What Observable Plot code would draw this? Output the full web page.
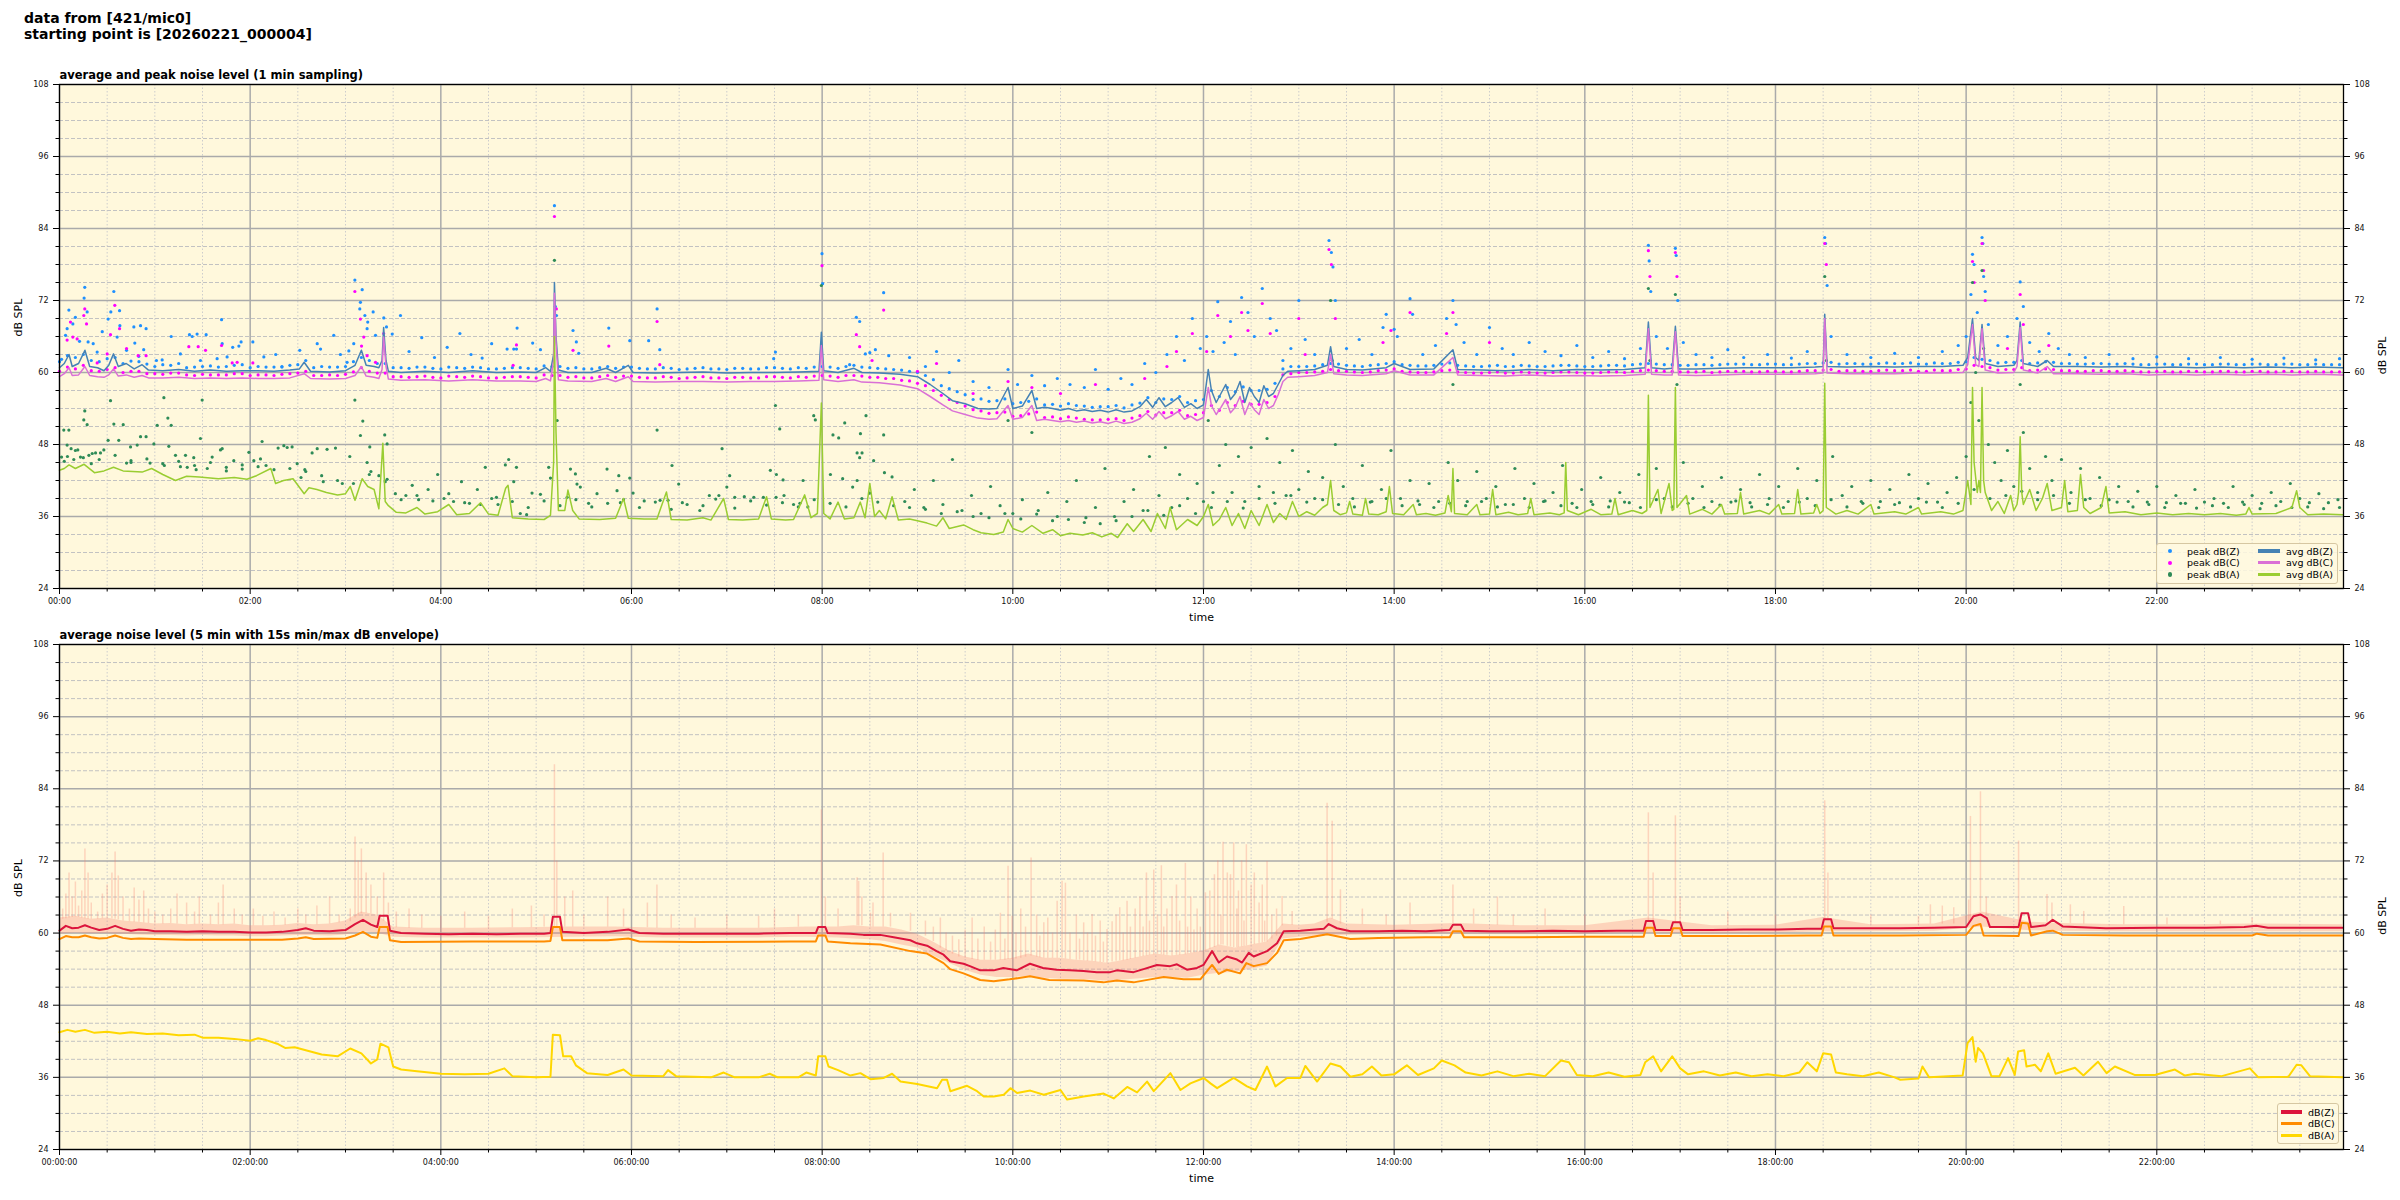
<!DOCTYPE html>
<html><head><meta charset="utf-8">
<script src="https://cdn.jsdelivr.net/npm/d3@7"></script>
<script src="https://cdn.jsdelivr.net/npm/@observablehq/plot@0.6"></script>
<style>
html,body{margin:0;padding:0;background:#fff;}
body{width:2400px;height:1200px;position:relative;overflow:hidden;font-family:"DejaVu Sans",sans-serif;}
#title{position:absolute;left:24px;top:10px;font-weight:bold;font-size:14px;line-height:16px;color:#000;}
.panel{position:absolute;left:0;}
.legend{position:absolute;box-sizing:border-box;border:1px solid #d6c7a2;border-radius:3px;background:rgba(255,249,225,0.85);font-size:9.5px;color:#000;}
.legend .item{position:absolute;white-space:nowrap;height:11px;line-height:11px;}
.legend .sw{position:absolute;}
</style></head>
<body>
<div id="title"></div>
<div id="top" class="panel" style="top:0px"></div>
<div id="bottom" class="panel" style="top:630px"></div>
<div id="legTop" class="legend" style="left:2156px;top:543px;width:182px;height:41px;"></div>
<div id="legBot" class="legend" style="left:2277px;top:1103px;width:62px;height:41px;"></div>
<script>
// ---------------- texts ----------------
const figTitle = ["data from [421/mic0]", "starting point is [20260221_000004]"];
const topTitle = "average and peak noise level (1 min sampling)";
const botTitle = "average noise level (5 min with 15s min/max dB envelope)";
const yLabel = "dB SPL";
const xLabel = "time";

// ---------------- ticks (minutes since 00:00) ----------------
const xMajor = [0,120,240,360,480,600,720,840,960,1080,1200,1320];
const xLabelsTop = ["00:00","02:00","04:00","06:00","08:00","10:00","12:00","14:00","16:00","18:00","20:00","22:00"];
const xLabelsBot = ["00:00:00","02:00:00","04:00:00","06:00:00","08:00:00","10:00:00","12:00:00","14:00:00","16:00:00","18:00:00","20:00:00","22:00:00"];
const xMinor = [30,60,90,150,180,210,270,300,330,390,420,450,510,540,570,630,660,690,750,780,810,870,900,930,990,1020,1050,1110,1140,1170,1230,1260,1290,1350,1380,1410];
const yMajor = [24,36,48,60,72,84,96,108];
const yMinor = [27,30,33,39,42,45,51,54,57,63,66,69,75,78,81,87,90,93,99,102,105];

// ---------------- top panel: 1-min averages [minute, dB] ----------------
const avgZ = [[0,60.8],[3,61.5],[6,63.0],[8,61.0],[12,61.5],[16,63.7],[19,61.0],[24,60.8],[28,60.3],[31,61.2],[34,63.1],[37,61.0],[42,61.5],[47,60.6],[52,61.3],[56,60.4],[65,60.3],[75,60.5],[85,60.2],[95,60.4],[105,60.2],[115,60.3],[125,60.3],[135,60.2],[145,60.4],[151,60.6],[154,61.7],[158,60.2],[170,60.1],[180,60.3],[186,61.2],[190,63.7],[193,61.2],[198,61.0],[201,60.8],[203,62.0],[204,67.5],[205.5,62.0],[207,60.2],[215,60.0],[230,60.2],[245,60.0],[260,60.3],[275,60.0],[290,60.1],[300,60.0],[306,60.8],[309,60.2],[311,63.0],[311.5,75.0],[312.5,66.0],[314,60.4],[320,60.0],[335,60.0],[344,60.7],[350,60.0],[358,61.2],[361,60.0],[375,59.9],[390,60.0],[405,60.1],[420,59.9],[435,60.0],[450,60.0],[465,60.1],[478,60.2],[479.5,66.7],[481,60.3],[490,60.0],[500,60.7],[505,60.0],[516,59.9],[529,59.7],[540,59.3],[548,58.0],[556,56.5],[562,55.3],[570,54.8],[578,54.0],[585,53.9],[590,54.0],[597,57.5],[600,54.0],[606,54.4],[612,57.0],[615,54.0],[620,54.2],[625,54.0],[630,53.7],[635,54.0],[640,53.6],[645,53.8],[650,53.5],[655,53.7],[660,53.4],[665,53.8],[670,53.4],[675,53.6],[680,54.3],[684,55.5],[688,54.2],[692,55.8],[696,54.3],[700,55.0],[704,55.8],[708,54.2],[712,54.8],[716,54.0],[720,54.6],[723,60.5],[725,57.0],[728,55.0],[731,56.5],[734,58.0],[737,55.5],[740,56.5],[743,58.5],[746,55.0],[749,57.5],[752,56.0],[755,55.0],[758,57.8],[761,56.0],[764,56.5],[767,58.0],[770,59.5],[773,60.2],[780,60.3],[790,60.5],[798,61.2],[800,64.3],[802,61.0],[810,60.5],[820,60.4],[835,60.8],[840,61.5],[850,60.5],[865,60.6],[877,63.8],[880,60.5],[895,60.4],[910,60.3],[925,60.5],[940,60.3],[955,60.5],[970,60.4],[985,60.5],[998,60.8],[1000,68.4],[1002,60.8],[1010,60.6],[1015,60.7],[1017,67.7],[1019,60.6],[1030,60.6],[1045,60.7],[1060,60.8],[1075,60.8],[1090,60.8],[1105,60.9],[1110,61.0],[1111,69.7],[1112.5,61.0],[1125,60.9],[1140,61.0],[1155,60.9],[1170,61.0],[1185,61.0],[1198,61.2],[1201,62.5],[1204,69.0],[1206,62.5],[1208,62.0],[1210,68.0],[1212,61.5],[1220,61.0],[1230,61.2],[1232,62.0],[1234,68.4],[1236,61.5],[1245,61.0],[1251,62.0],[1255,61.0],[1270,61.0],[1285,60.9],[1300,61.0],[1315,60.8],[1330,60.9],[1345,60.8],[1360,60.9],[1375,60.8],[1390,60.9],[1405,60.8],[1420,60.9],[1437,60.8]];

const avgC = [[0,59.3],[3,59.8],[6,60.8],[8,59.5],[12,59.6],[16,61.0],[19,59.5],[24,59.3],[28,59.2],[31,59.6],[34,60.6],[37,59.4],[42,59.6],[47,59.2],[52,59.5],[56,59.1],[65,59.1],[75,59.2],[85,59.0],[95,59.1],[105,59.0],[115,59.1],[125,59.0],[135,59.0],[145,59.1],[154,59.8],[158,59.0],[170,58.9],[180,59.0],[186,59.5],[190,61.0],[193,59.4],[198,59.2],[201,59.0],[203,60.5],[204,65.9],[205.5,61.0],[207,58.9],[215,58.7],[230,58.8],[245,58.6],[260,58.8],[275,58.6],[290,58.6],[300,58.5],[306,59.0],[309,58.6],[311,62.0],[311.5,73.2],[312.5,65.0],[314,58.8],[320,58.6],[335,58.5],[344,59.0],[350,58.5],[358,59.3],[361,58.5],[375,58.4],[390,58.5],[405,58.5],[420,58.4],[435,58.5],[450,58.5],[465,58.6],[478,58.7],[479.5,64.5],[481,58.8],[490,58.5],[500,58.8],[505,58.4],[516,58.3],[529,57.9],[540,57.3],[548,56.0],[556,54.6],[562,53.6],[570,53.0],[578,52.4],[585,52.2],[590,52.3],[597,54.5],[600,52.2],[606,52.5],[612,54.5],[615,52.0],[620,52.2],[625,52.0],[630,51.8],[635,52.0],[640,51.7],[645,51.9],[650,51.6],[655,51.8],[660,51.5],[665,51.9],[670,51.5],[675,51.7],[680,52.3],[684,53.2],[688,52.2],[692,53.5],[696,52.3],[700,52.8],[704,53.5],[708,52.2],[712,52.7],[716,52.0],[720,52.5],[723,57.5],[725,54.5],[728,53.0],[731,54.2],[734,55.5],[737,53.3],[740,54.2],[743,56.0],[746,53.0],[749,55.0],[752,53.8],[755,53.0],[758,55.5],[761,54.0],[764,54.5],[767,56.3],[770,58.5],[773,59.2],[780,59.3],[790,59.5],[798,60.0],[800,63.0],[802,59.8],[810,59.6],[820,59.5],[835,59.8],[840,60.3],[850,59.6],[865,59.6],[877,62.5],[880,59.6],[895,59.5],[910,59.4],[925,59.6],[940,59.4],[955,59.5],[970,59.4],[985,59.5],[998,59.7],[1000,67.3],[1002,59.7],[1010,59.6],[1015,59.6],[1017,66.8],[1019,59.6],[1030,59.5],[1045,59.6],[1060,59.7],[1075,59.7],[1090,59.7],[1105,59.8],[1110,59.9],[1111,69.0],[1112.5,59.9],[1125,59.8],[1140,59.8],[1155,59.8],[1170,59.9],[1185,59.9],[1198,60.0],[1201,61.3],[1204,68.0],[1206,61.3],[1208,61.0],[1210,67.3],[1212,60.4],[1220,59.9],[1230,60.0],[1232,61.0],[1234,67.5],[1236,60.4],[1245,59.9],[1251,61.0],[1255,59.8],[1270,59.8],[1285,59.7],[1300,59.8],[1315,59.6],[1330,59.7],[1345,59.6],[1360,59.7],[1375,59.6],[1390,59.7],[1405,59.6],[1420,59.7],[1437,59.6]];

const avgA = [[0,43.7],[3,44.0],[6,44.6],[10,44.0],[15.5,44.7],[22,43.3],[28,43.6],[34,44.2],[40,43.6],[46,43.5],[52,43.4],[58,44.0],[65,43.0],[73,42.0],[80,42.7],[88,42.6],[100,42.3],[110,42.5],[118,42.2],[124,42.8],[133,44.0],[136,41.5],[141,42.0],[147,42.3],[154,39.8],[157,40.8],[162,40.5],[168,40.0],[175,39.6],[180,39.8],[183,41.0],[186,38.7],[190.5,42.3],[194,41.0],[198,40.5],[201,37.3],[203.5,48.2],[205,38.5],[207,37.8],[212,36.7],[218,36.6],[225,37.5],[230,36.4],[238,36.8],[245,38.0],[250,36.3],[258,36.5],[265,38.3],[270,36.4],[276,36.2],[280.8,40.7],[282.3,41.2],[285,35.8],[295,35.6],[305,35.5],[309,36.2],[311,45.0],[311.5,66.0],[312.5,50.0],[314,37.0],[318,37.0],[320,40.4],[323,37.0],[327,35.6],[340,35.5],[350,35.7],[355,39.0],[358,35.7],[368,35.6],[376,35.6],[382,40.1],[385,35.5],[395,35.4],[405,35.8],[410,35.4],[418,39.0],[421,35.5],[430,35.4],[440,35.6],[445,39.3],[448,35.6],[457,35.4],[462,35.5],[469,39.6],[473,35.8],[477,36.5],[479.5,54.9],[481,36.5],[485,35.6],[490,38.4],[494,35.6],[500,35.8],[504,38.4],[507,35.8],[510,41.5],[513,36.0],[516,37.0],[520,35.6],[524,39.3],[528,35.4],[535,35.6],[540,35.3],[546,34.9],[552,34.4],[556,35.8],[560,34.0],[569,34.6],[575,33.8],[580,33.3],[588,33.0],[594,33.4],[597,35.5],[600,34.0],[606,33.4],[612,34.5],[619,33.2],[625,33.8],[630,32.8],[636,33.2],[644,32.9],[650,33.3],[656,32.6],[662,33.2],[666,32.5],[672,34.8],[676,33.5],[682,35.5],[687,33.5],[691,36.5],[696,34.0],[699,37.5],[703,33.8],[710,35.5],[716,34.5],[720,36.0],[723,38.0],[726,34.5],[730,35.5],[734,37.5],[738,34.5],[742,36.5],[746,34.0],[750,37.0],[755,34.5],[760,38.0],[764,35.0],[768,36.5],[772,35.5],[776,38.5],[780,36.0],[785,36.8],[790,36.2],[795,37.5],[798,38.0],[800,42.0],[802,37.0],[806,36.3],[810,36.6],[812,38.5],[814,36.4],[820,36.2],[822,39.0],[824,36.4],[830,36.3],[835,36.8],[837,41.0],[839,36.5],[846,36.3],[852,38.0],[854,36.3],[860,36.5],[866,36.2],[872,36.6],[874,39.5],[876,36.8],[877,44.0],[878,36.5],[886,36.3],[892,38.0],[894,36.3],[900,36.4],[902,40.5],[904,36.3],[912,36.7],[918,36.3],[924,36.5],[926,39.0],[928,36.3],[938,36.6],[944,36.3],[947,36.6],[948,45.0],[949,37.0],[956,36.3],[964,37.2],[970,36.3],[977,36.4],[979,39.0],[981,36.3],[990,37.0],[996,36.5],[999,37.0],[1000,56.2],[1001,37.5],[1006,40.5],[1008,36.5],[1013,41.5],[1015,37.0],[1016,37.2],[1017,57.5],[1018,37.5],[1024,39.5],[1026,36.4],[1034,37.2],[1040,36.4],[1046,38.0],[1048,36.4],[1056,36.5],[1058,40.0],[1060,36.4],[1070,37.0],[1076,36.4],[1082,38.0],[1084,36.4],[1092,36.5],[1094,40.5],[1096,36.4],[1104,36.6],[1106,38.0],[1108,36.5],[1110,37.0],[1111,58.2],[1112,37.5],[1118,36.4],[1125,37.0],[1132,36.4],[1140,38.0],[1142,36.4],[1155,36.8],[1162,36.4],[1170,37.5],[1172,36.4],[1184,36.8],[1192,36.4],[1198,37.0],[1201,42.0],[1203,38.0],[1204,57.5],[1205,45.0],[1207,40.0],[1208,42.0],[1209,40.0],[1210,57.5],[1211,42.0],[1212,40.0],[1216,37.0],[1220,38.5],[1224,36.5],[1228,39.5],[1230,37.0],[1232,38.0],[1233,40.0],[1234,49.3],[1235,40.0],[1236,38.0],[1240,40.5],[1244,37.0],[1248,39.0],[1251,41.5],[1254,37.0],[1260,37.5],[1262,42.0],[1264,36.8],[1270,37.0],[1272,43.0],[1274,37.5],[1278,36.5],[1285,37.5],[1288,41.0],[1290,36.6],[1300,36.8],[1310,36.3],[1320,36.6],[1330,36.3],[1340,36.5],[1350,36.3],[1360,36.5],[1370,36.2],[1376,36.4],[1378,37.5],[1380,36.4],[1395,36.5],[1405,37.5],[1408,40.3],[1410,37.5],[1415,36.3],[1425,36.4],[1437,36.3]];

// ---------------- top panel: 1-min peaks [minute, dB] ----------------
const peakZ = [[0,61.8],[10,62.5],[20,62.0],[30,62.3],[40,61.5],[50,61.8],[60,61.0],[70,61.2],[80,60.8],[90,61.0],[100,60.9],[110,61.2],[120,60.8],[130,60.9],[140,61.0],[150,61.3],[160,60.8],[170,60.9],[180,61.0],[190,62.5],[200,61.5],[210,60.8],[220,60.7],[230,60.9],[240,60.6],[250,60.8],[260,60.9],[270,60.6],[280,60.7],[290,60.8],[300,60.6],[310,61.0],[320,60.7],[330,60.6],[340,60.8],[350,60.7],[360,60.9],[370,60.6],[380,60.8],[390,60.5],[400,60.7],[410,60.6],[420,60.5],[430,60.7],[440,60.6],[450,60.8],[460,60.6],[470,60.7],[480,61.0],[490,60.7],[500,61.2],[510,60.8],[520,60.6],[530,60.4],[540,60.0],[550,58.8],[560,57.3],[570,56.3],[580,55.6],[590,55.3],[600,54.8],[610,55.2],[620,54.6],[630,54.4],[640,54.5],[650,54.2],[660,54.3],[670,54.1],[680,54.9],[690,55.0],[700,55.5],[710,55.0],[720,55.5],[730,56.0],[740,56.8],[750,57.0],[760,57.2],[770,60.6],[780,61.0],[790,61.1],[800,61.5],[810,61.2],[820,61.0],[830,61.3],[840,61.8],[850,61.2],[860,61.1],[870,61.4],[880,61.2],[890,61.0],[900,61.1],[910,61.0],[920,61.2],[930,61.0],[940,61.1],[950,61.2],[960,61.0],[970,61.1],[980,61.2],[990,61.3],[1000,61.5],[1010,61.3],[1020,61.2],[1030,61.3],[1040,61.2],[1050,61.4],[1060,61.4],[1070,61.3],[1080,61.4],[1090,61.3],[1100,61.5],[1110,61.6],[1120,61.4],[1130,61.5],[1140,61.4],[1150,61.6],[1160,61.5],[1170,61.4],[1180,61.6],[1190,61.5],[1200,61.8],[1210,62.2],[1220,61.6],[1230,61.7],[1240,61.5],[1250,61.8],[1260,61.5],[1270,61.4],[1280,61.5],[1290,61.4],[1300,61.5],[1310,61.3],[1320,61.4],[1330,61.3],[1340,61.4],[1350,61.3],[1360,61.4],[1370,61.3],[1380,61.4],[1390,61.3],[1400,61.4],[1410,61.3],[1420,61.4],[1430,61.3],
[1.3,62.2],[3.8,66.2],[5.9,70.4],[4.8,67.3],[8.4,68.1],[10,69.2],[12.6,65.2],[15.9,74.2],[15.5,72.4],[17.4,70.1],[18,65.1],[21.2,64.8],[23.7,63.4],[26.9,66.8],[30.6,68.9],[32.3,70.1],[34.2,73.5],[37.8,70.3],[38,67.8],[36.3,65.9],[42.2,63.7],[46.8,67.6],[51,67.8],[54.5,67.3],[47.4,64.9],[49.9,62.7],[53,63.8],[61,62],[64.6,62.1],[70.3,66],[76.1,63.1],[81.8,66.3],[83.5,66],[86.6,66.4],[92.3,66.3],[88.7,62],[102,68.8],[102.4,64.8],[99.2,62.3],[105.5,62.6],[109,64.2],[112.9,64.4],[114.3,65.1],[121.7,65.1],[128.6,62.6],[136.1,63],[140,60.9],[151.2,63.7],[162.2,64.8],[164.3,63.9],[172.6,66.2],[176.8,63],[185.9,75.4],[190.5,73.8],[189.4,71.7],[189,70.6],[192.2,69.5],[193.6,67.3],[197.4,70.1],[194,68.4],[198.9,66.2],[204.1,69.1],[205.8,67.6],[209.4,66.4],[214.6,69.5],[185.2,64.8],[182.1,63.6],[181,61.7],
[220,63.5],[228,65.8],[236,62.5],[244,64.2],[252,66.5],[259,63],[266,62.4],[272,64.8],
[281.7,63.9],[285.9,63.9],[287.6,63.9],[288,67.4],[297.8,64.9],[302.7,63.8],[312.1,71],[312.8,69.5],[311.5,87.8],[323.2,67],[325.3,65.1],[326.8,63.2],[345.7,67.4],[358.9,65.3],[370.8,65.3],[376.1,70.6],[377.8,63.8],[450.6,63.4],[449.5,62.3],[479.9,79.8],[480.3,74.8],[497.3,61.3],[501.5,69.2],[503.6,68.5],[507.2,63.1],[510,63.3],[513.5,63.8],[518.7,73.3],[521.9,62.8],
[535,62.5],[545,61],[552,63.5],[560,60],[566,62],[575,58.5],[585,57.5],[597,60.5],[603,58],[612,59.5],[620,57.8],[628,59],[636,58],[645,57.5],[652,60.5],[660,57.2],[668,59],[675,58],[683,61.5],[690,60],[697,63],[703,66],[708,62],[713,69],[718,64],[722,66],[726,63.5],[729,71.8],[733,65],[737,68.5],[740,63],[744,72.5],[748,70],[752,66],[757,74],[762,69],[766,67],[770,62],[775,64],[780,72],[784,65.5],[790,63],[799,82],[800.5,80],[801.5,77.6],[803,72],[810,64],[818,65.5],[826,63],[833,67.5],[835,69.7],[840,67.2],[842,66],[850,72.3],[851.6,69.7],[858,63],[866,64.5],[873,69],[877,72],[879,68],[884,65],[892,63],[900,67.5],[908,64],[915,63],[925,65],[935,63.5],[945,62.8],[955,64.5],[965,62.5],[975,63.5],[985,62.3],[995,64],[1000,81.2],[1000.5,78.6],[1001.5,73.5],[1005,66],[1012,64],[1017,80.7],[1017.5,79.5],[1018.5,72],[1022,65],[1030,63],[1040,62.5],[1050,63.8],[1060,62.5],[1075,63],[1090,62.4],[1100,63.5],[1111,82.5],[1111.5,81.5],[1112.5,74.5],[1115,66],[1125,63],[1140,62.5],[1155,63.2],[1170,62.5],[1185,63.5],[1195,64.5],[1200,66],[1203,73],[1204,79.7],[1205,78],[1207,70],[1210,82.5],[1210.5,81.5],[1211,76],[1212,73.5],[1214,68],[1220,64.5],[1226,66],[1232,69],[1234,75.1],[1236,71],[1240,65],[1246,63.5],[1252,66.5],[1258,64],[1265,63],[1275,62.5],[1290,63],[1305,62.3],[1320,62.6],[1340,62.3],[1360,62.5],[1380,62.2],[1400,62.4],[1420,62.1],[1435,62.3]];

const peakC = [[0,60.2],[10,60.6],[20,60.3],[30,60.5],[40,60.0],[50,60.2],[60,59.8],[70,59.9],[80,59.6],[90,59.7],[100,59.6],[110,59.8],[120,59.5],[130,59.6],[140,59.7],[150,59.9],[160,59.5],[170,59.6],[180,59.7],[190,60.8],[200,59.9],[210,59.3],[220,59.2],[230,59.4],[240,59.1],[250,59.3],[260,59.4],[270,59.1],[280,59.2],[290,59.3],[300,59.1],[310,59.5],[320,59.2],[330,59.1],[340,59.3],[350,59.2],[360,59.4],[370,59.1],[380,59.3],[390,59.0],[400,59.2],[410,59.1],[420,59.0],[430,59.2],[440,59.1],[450,59.3],[460,59.1],[470,59.2],[480,59.5],[490,59.2],[500,59.5],[510,59.2],[520,59.0],[530,58.7],[540,58.2],[550,57.0],[560,55.5],[570,54.4],[580,53.6],[590,53.3],[600,52.7],[610,53.1],[620,52.5],[630,52.3],[640,52.4],[650,52.1],[660,52.2],[670,52.0],[680,52.8],[690,52.9],[700,53.3],[710,52.8],[720,53.3],[730,53.7],[740,54.5],[750,54.7],[760,55.0],[770,59.6],[780,60.0],[790,60.1],[800,60.5],[810,60.2],[820,60.0],[830,60.3],[840,60.6],[850,60.1],[860,60.0],[870,60.3],[880,60.1],[890,59.9],[900,60.0],[910,59.9],[920,60.1],[930,59.9],[940,60.0],[950,60.1],[960,59.9],[970,60.0],[980,60.1],[990,60.2],[1000,60.4],[1010,60.2],[1020,60.1],[1030,60.1],[1040,60.0],[1050,60.2],[1060,60.2],[1070,60.1],[1080,60.2],[1090,60.1],[1100,60.3],[1110,60.4],[1120,60.2],[1130,60.3],[1140,60.2],[1150,60.4],[1160,60.3],[1170,60.2],[1180,60.4],[1190,60.3],[1200,60.6],[1210,61.0],[1220,60.4],[1230,60.5],[1240,60.3],[1250,60.6],[1260,60.3],[1270,60.2],[1280,60.3],[1290,60.2],[1300,60.3],[1310,60.1],[1320,60.2],[1330,60.1],[1340,60.2],[1350,60.1],[1360,60.2],[1370,60.1],[1380,60.2],[1390,60.1],[1400,60.2],[1410,60.1],[1420,60.2],[1430,60.1],
[6.9,68.4],[15.9,70.6],[15.3,69.5],[17,68.1],[8.4,65.9],[11.1,65.6],[4.8,65.4],[34.8,71.2],[32.1,66.3],[37.8,67.3],[30,63.1],[23.7,61.6],[42.2,64],[49.5,62.8],[54.5,62.8],[81.4,64.3],[87.3,64.3],[102,64.5],[108.7,61.6],[111.8,61.7],[91.9,63.7],[121.7,61.6],[185.9,73.5],[189.4,68.9],[191.5,65.9],[190.1,64.4],[193.6,62.8],[198.9,61.7],[204,66.5],
[285.5,61.2],[287.6,64.6],[311.5,86],[312.7,70.6],[323.2,63.7],[345.7,64.4],[376.1,68.5],[377.8,61.3],[479.9,77.8],[501.5,66.3],[503.6,64.3],[511.4,62],[518.7,70.4],
[540,60.2],[552,61.5],[575,56.5],[597,58.5],[612,57.5],[630,56.5],[652,58],[683,59],[697,61],[703,63.5],[713,66.5],[722,63.5],[729,69.5],[737,66],[744,70],[748,67],[757,71.5],[762,66.5],[780,69],[784,63],[799,80.5],[800.5,78],[803,69],[833,65],[838,67],[850,70],[873,66.5],[877,70],[900,65],[1000,80.3],[1001,76],[1017,80],[1018,76],[1111,81.5],[1112,78],[1204,78.5],[1205,75],[1210,81.5],[1211,77],[1212,72],[1226,64],[1234,73],[1236,68],[1252,64.5]];

const peakA = [[1.3,45.9],[2.7,50.4],[5.9,50.4],[4.8,47.9],[7.3,47.3],[10,47],[11.5,47.1],[13.2,45.9],[15.3,52.1],[15.9,53.6],[17.4,51.3],[18.5,46.2],[20.6,46.5],[22.7,46.6],[25.8,46.6],[27.9,47.1],[30.6,48.7],[32.1,55.3],[34.2,51.4],[37.3,48.7],[40.1,51.3],[42.2,44.9],[44.7,47.6],[48.9,47.9],[51,49.3],[54.5,49.3],[59.4,48.1],[61.5,51.2],[65.7,55.8],[68.2,52.4],[70.3,51.2],[68.8,47.7],[73,46.2],[76.1,44.3],[79.3,46.2],[80.4,44.2],[84.5,45.8],[88.7,49],[89.8,55.4],[96.1,45.9],[101.3,47.1],[102.4,47.3],[109.7,45.3],[119.2,46.7],[122.3,45.3],[126.5,45.6],[127.5,48.5],[137.6,47.4],[141.2,47.8],[143.3,47.5],[146.4,47.6],[149.6,44.8],[154.4,43.8],[159,46.6],[162.2,47.3],[168.4,47.2],[173.7,47.4],[182.7,46],[185.9,55.4],[189.4,49.5],[190.9,51.9],[195.3,47.6],[193.6,45],[201,42.8],[204.7,49.6],[206.2,48.1],[211.4,39.8],[206.2,42.2],
[3,45.2],[9,45.5],[20,44.8],[45,45.3],[57,44.9],[66,44.5],[86,43.8],[93,44],[105,43.6],[115,43.9],[130,44.5],[152,42.5],[166,41.8],[178,41.5],[196,43.5],
[218,39.5],[222,41.2],[226,38.8],[232,40.5],[238,43],[242,39],[248,38.5],[253,41.8],[258,38.2],[263,40.5],[268,44.2],[272,39],[276,38],
[280.6,44.6],[282.7,45.5],[287.6,44.2],[285.9,41.8],[307.9,44.2],[309,42.4],[311.5,78.7],[313.2,52],[321.6,43.9],[324.7,43.1],[325.7,41.4],[327.8,40.9],[344.6,43.9],[352,42.8],[358.9,42.4],[376.1,50.4],[385.5,44.5],[389.7,41.4],[417,47.3],[421.8,42.8],[447.4,43.7],[450.6,54.5],[451.2,43],[453.3,50.6],[455.4,42.1],[468,42],[474.7,52.8],[475.7,52.1],[479.5,74.5],[485.2,43],[486.8,49.6],[490.4,49.1],[492.9,42.3],[494.2,51.6],[499.2,40.9],[502,46.6],[502,42],[503.6,45.8],[504.1,49.8],[505.1,46.6],[507.6,52.8],[509.9,39.9],[512.4,45.3],[518.7,49.6],[519.2,43.3],[524,42.6],
[290,36.5],[294,36.3],[297.4,39.9],[302.7,39.7],[319.5,39.2],[333,38.2],[338.3,39.8],[350.9,40.3],[353,38.3],[361,39.9],[368,38.6],[378,38.7],[383,38.7],[392,38.3],[403,37],[409,39.5],[413,38.9],[420,40.9],[425,39.2],[431,39.3],[437,39.2],[443,39.2],[451,39.2],[456,39.5],[462,38],[466,38.2],[471,37.6],
[532,38.5],[538,40.5],[544,37.5],[550,42],[556,38],[562,45.5],[568,37],[574,39.5],[580,36.5],[586,41],[592,37.8],[597,52],[600,36.5],[606,38.8],[612,50],[616,37],[622,40],[628,36],[634,38.5],[640,42],[646,35.8],[652,37.5],[658,44],[664,36],[670,38.5],[676,40.5],[682,37],[686,46],[692,39.5],[696,47.5],[700,37.5],[705,43],[710,39],[716,41.5],[720,38.5],[723,52],[726,40],[730,44.5],[734,48],[738,40],[742,46],[746,38.5],[750,47.5],[755,41],[760,49],[764,40],[768,45],[772,39.5],[776,47],[780,40.5],[786,43.5],[790,39],[795,42.5],[800,72],[801,62],[803,48],[808,41],[814,39],[820,44.5],[826,38.5],[832,40.5],[838,47],[844,39],[850,42],[856,38],[862,41.5],[868,38.5],[874,45],[877,58],[880,42],[886,38.5],[892,43.5],[898,39],[904,41],[910,38],[916,44],[922,39],[928,41.5],[934,38.5],[940,40],[946,44.5],[952,38.2],[958,40.5],[964,38.5],[970,42.5],[976,38.6],[982,40],[988,38.3],[994,43],[1000,74],[1001,62],[1005,44],[1010,39],[1017,73],[1018,58],[1022,45],[1028,39],[1034,41],[1040,38.5],[1046,42.5],[1052,38.4],[1058,40.5],[1064,38.3],[1070,43],[1076,39],[1082,41],[1088,38.5],[1094,44],[1100,39],[1106,42],[1111,76],[1112,62],[1116,46],[1122,39.5],[1128,41],[1134,38.5],[1140,42],[1146,38.5],[1152,40.5],[1158,38.3],[1164,43],[1170,39],[1176,41.5],[1182,38.4],[1188,40],[1194,42.5],[1200,46],[1203,55],[1204,75],[1206,60],[1208,52],[1210,77],[1211,64],[1214,48],[1218,45],[1222,42],[1226,47],[1230,41],[1234,58],[1236,50],[1240,44],[1245,40],[1250,46],[1254,42],[1260,45.5],[1266,40],[1272,44],[1278,39],[1284,42.5],[1290,38.8],[1296,41],[1302,38.5],[1308,40.2],[1314,38.4],[1320,41],[1326,38.3],[1332,39.5],[1338,38.2],[1344,40.5],[1350,38.4],[1356,39],[1362,38.2],[1368,41],[1374,38.4],[1380,39.5],[1386,38.2],[1392,40],[1398,38.5],[1404,41.5],[1410,39],[1416,38.3],[1422,39.8],[1428,38.3],[1434,38.8]];

// extra peak samples on the 5-past grid (minutes) and their dB values
const bandT = [5,15,25,35,45,55,65,75,85,95,105,115,
125,135,145,155,165,175,185,195,205,215,225,235,
245,255,265,275,285,295,305,315,325,335,345,355,
365,375,385,395,405,415,425,435,445,455,465,475,
485,495,505,515,525,535,545,555,565,575,585,595,
605,615,625,635,645,655,665,675,685,695,705,715,
725,735,745,755,765,775,785,795,805,815,825,835,
845,855,865,875,885,895,905,915,925,935,945,955,
965,975,985,995,1005,1015,1025,1035,1045,1055,1065,1075,
1085,1095,1105,1115,1125,1135,1145,1155,1165,1175,1185,1195,
1205,1215,1225,1235,1245,1255,1265,1275,1285,1295,1305,1315,
1325,1335,1345,1355,1365,1375,1385,1395,1405,1415,1425,1435];
const peakZ5 = [62.8,63.0,61.8,62.5,61.9,61.4,61.3,61.5,60.9,61.1,61.0,61.3,
61.0,60.9,61.2,62.0,61.0,60.9,61.8,62.0,61.5,60.8,60.9,60.7,
60.9,60.7,60.8,60.6,60.8,60.7,61.1,61.0,60.8,60.6,61.0,60.9,
60.7,60.6,60.7,60.6,60.8,60.6,60.7,60.6,60.8,60.7,60.8,60.9,
60.9,61.0,60.9,60.7,60.5,60.2,59.5,57.8,56.8,55.5,55.2,55.6,
55.0,55.6,54.7,54.8,54.4,54.3,54.5,54.6,55.8,55.6,56.0,55.3,
57.0,57.5,57.6,57.0,58.2,61.0,61.0,61.3,61.4,61.1,61.2,61.5,
61.3,61.1,61.2,61.6,61.1,61.0,61.2,61.0,61.1,61.0,61.2,61.1,
61.0,61.2,61.1,61.4,61.4,61.3,61.2,61.3,61.3,61.4,61.3,61.4,
61.3,61.4,61.5,61.7,61.5,61.4,61.5,61.5,61.6,61.4,61.5,61.7,
62.5,62.0,61.7,62.0,61.6,61.7,61.5,61.4,61.5,61.4,61.4,61.3,
61.4,61.3,61.4,61.3,61.4,61.3,61.4,61.3,61.4,61.3,61.3,61.3];
const peakC5 = [60.9,61.2,60.2,60.8,60.2,59.8,59.7,59.9,59.5,59.6,59.6,59.8,
59.6,59.5,59.8,60.2,59.5,59.5,60.1,60.2,59.9,59.3,59.3,59.2,
59.4,59.2,59.3,59.1,59.3,59.2,59.6,59.5,59.3,59.1,59.5,59.4,
59.2,59.1,59.2,59.1,59.3,59.1,59.2,59.1,59.3,59.2,59.3,59.4,
59.4,59.5,59.4,59.2,59.0,58.6,57.8,56.2,55.0,53.8,53.2,53.4,
52.8,53.4,52.6,52.6,52.2,52.1,52.3,52.4,53.5,53.3,53.7,53.0,
54.5,55.0,55.2,54.7,56.0,59.8,60.0,60.2,60.3,60.1,60.1,60.4,
60.2,60.0,60.1,60.4,60.0,59.9,60.1,59.9,60.0,59.9,60.1,60.0,
59.9,60.1,60.0,60.3,60.3,60.2,60.1,60.2,60.1,60.2,60.1,60.2,
60.1,60.2,60.3,60.5,60.3,60.2,60.3,60.3,60.4,60.2,60.3,60.5,
61.2,60.8,60.5,60.8,60.4,60.5,60.3,60.2,60.3,60.2,60.2,60.1,
60.2,60.1,60.2,60.1,60.2,60.1,60.2,60.1,60.2,60.1,60.1,60.1];
const peakA5 = [46.0,45.8,45.5,46.2,45.0,45.6,44.8,45.2,44.5,45.0,44.2,44.6,
44.3,43.8,44.0,43.5,42.8,42.0,41.5,43.0,41.8,38.8,39.5,38.6,
39.8,38.3,38.0,39.2,38.5,37.5,38.6,37.8,38.8,37.6,38.2,38.8,
37.5,38.4,37.2,38.0,37.8,39.5,37.4,38.6,37.9,38.3,37.6,38.8,
38.2,37.6,39.0,38.4,37.8,37.5,37.2,36.5,36.8,36.0,35.8,36.5,
35.6,36.4,35.3,35.5,35.0,34.8,35.3,36.0,37.0,36.2,37.8,36.5,
37.5,38.5,37.4,39.0,38.2,39.5,38.4,38.8,38.0,37.6,38.4,39.0,
37.8,38.6,37.5,38.2,37.8,38.5,37.6,38.0,37.5,38.6,37.8,37.5,
38.0,37.6,38.4,37.5,38.8,37.6,38.2,37.5,37.9,38.6,37.6,38.0,
37.5,38.4,37.8,38.8,37.6,38.2,37.5,38.0,37.6,38.4,37.5,38.2,
40.5,39.0,39.5,40.2,38.8,39.5,38.2,38.8,37.8,38.4,37.6,38.0,
37.5,38.2,37.4,37.8,37.5,38.0,37.3,37.8,37.5,37.6,37.3,37.5];

// ---------------- bottom panel: 5-min averages [minute, dB] ----------------
const lineZ = [[0,60.4],[4,61.2],[8,60.8],[12,60.9],[16,61.3],[20,60.9],[25,60.5],[30,60.7],[35,61.2],[40,60.7],[45,60.4],[50,60.6],[55,60.5],[60,60.3],[70,60.3],[80,60.2],[90,60.3],[100,60.2],[110,60.2],[120,60.1],[130,60.1],[140,60.2],[150,60.5],[155,60.8],[160,60.4],[170,60.3],[180,60.5],[186,61.5],[191,62.2],[196,61.4],[200,61.0],[201.5,62.9],[206.5,62.9],[208,60.4],[215,60.0],[230,59.9],[245,59.8],[260,59.9],[275,59.8],[290,59.9],[305,59.9],[309,60.0],[310.5,62.7],[315,62.7],[316.5,60.2],[330,60.0],[345,60.2],[358,60.6],[365,60.0],[380,59.9],[400,59.9],[420,59.9],[440,59.9],[460,60.0],[476,60.0],[477.5,61.0],[482,61.0],[483.5,60.0],[497.8,59.9],[506,59.7],[516.6,59.7],[525,59.3],[535.5,58.8],[539.7,58.3],[546,57.9],[552,57.0],[556.4,56.4],[560.6,55.3],[569,54.9],[573,54.5],[579.5,53.8],[588,53.8],[594,54.2],[602.4,53.8],[610.8,54.9],[619,54.2],[627.6,53.9],[636,53.8],[644.5,53.7],[652.9,53.5],[661.3,53.5],[665.5,53.8],[676,53.5],[682.3,54.0],[690.7,54.7],[699,54.5],[703.3,54.8],[709.6,53.9],[715.9,54.2],[720,54.7],[725.4,57.0],[729.6,55.1],[734.8,56.1],[741.1,55.6],[744.3,55.1],[748.5,56.7],[751.6,56.1],[760,57.0],[766.3,58.3],[770.5,60.3],[781,60.4],[795.7,60.7],[798.8,61.5],[804,60.8],[812.5,60.3],[830,60.3],[845,60.4],[860,60.3],[875,60.5],[877,61.4],[882,61.4],[884,60.4],[900,60.3],[920,60.3],[940,60.4],[960,60.3],[980,60.4],[997,60.4],[998.5,62.0],[1003,62.0],[1004.5,60.5],[1014,60.5],[1015.5,61.8],[1020,61.8],[1021.5,60.5],[1040,60.5],[1060,60.6],[1080,60.6],[1100,60.7],[1109,60.7],[1110.5,62.3],[1115,62.3],[1116.5,60.8],[1130,60.8],[1145,60.8],[1158.6,60.8],[1180,60.9],[1200,61.0],[1204.6,62.8],[1209,63.1],[1213,62.5],[1215,61.0],[1233,61.0],[1234.9,63.3],[1239,63.3],[1240.8,61.0],[1250,61.3],[1254.5,62.2],[1260.8,61.1],[1288,60.8],[1320,60.9],[1351,60.9],[1375,61.0],[1382.6,61.2],[1390,60.9],[1437,60.9]];

const lineC = [[0,59.0],[4,59.5],[8,59.3],[12,59.3],[16,59.6],[20,59.3],[25,59.1],[30,59.2],[35,59.6],[40,59.2],[45,59.0],[50,59.1],[60,59.0],[80,58.9],[100,58.9],[120,58.9],[140,58.9],[150,59.1],[155,59.3],[160,59.0],[180,59.1],[186,59.6],[191,60.2],[196,59.4],[200,59.2],[201.5,61.0],[206.5,61.0],[208,58.8],[215,58.5],[260,58.6],[305,58.6],[309,58.7],[310.5,61.0],[315,61.0],[316.5,58.8],[345,58.8],[358,59.1],[365,58.6],[400,58.5],[460,58.6],[476,58.6],[477.5,59.6],[482,59.6],[483.5,58.6],[497.8,58.3],[516.6,58.1],[535.5,57.0],[546,56.6],[556.4,55.0],[560.6,54.0],[569,53.3],[579.5,52.2],[588,52.0],[598,52.3],[610.8,52.8],[623,52.2],[644.5,52.1],[657,51.8],[665.5,52.1],[676,51.8],[686.5,52.3],[695,52.7],[707.5,52.3],[718,52.3],[725.4,54.7],[729.6,53.2],[734.8,53.9],[743,53.3],[747,55.0],[751.6,54.5],[760,55.0],[766.3,56.7],[770.5,58.8],[781,59.0],[797.8,59.8],[812.5,59.0],[830,59.2],[860,59.3],[875,59.3],[877,60.3],[882,60.3],[884,59.3],[920,59.3],[960,59.4],[997,59.4],[998.5,60.9],[1003,60.9],[1004.5,59.5],[1014,59.5],[1015.5,60.8],[1020,60.8],[1021.5,59.5],[1060,59.5],[1100,59.6],[1109,59.6],[1110.5,61.1],[1115,61.1],[1116.5,59.6],[1158.6,59.6],[1200,59.7],[1204.6,61.2],[1209,61.5],[1211,59.6],[1233,59.5],[1234.9,61.7],[1239,61.6],[1240.8,59.6],[1251,60.3],[1254.5,60.4],[1260.8,59.7],[1300,59.6],[1380,59.6],[1383,59.9],[1390,59.6],[1437,59.6]];

const lineA = [[0,43.5],[5,43.9],[10,43.6],[16,43.9],[22,43.4],[30,43.6],[38,43.3],[45,43.5],[55,43.2],[65,43.3],[75,43.0],[85,43.1],[90,42.6],[100,42.6],[110,42.4],[120,42.1],[125,42.5],[130,42.2],[137,41.6],[142,40.9],[148,41.0],[155,40.5],[165,39.8],[175,39.5],[183,40.8],[190,40.0],[196,38.3],[200,39.0],[202,41.6],[207,41.0],[210,37.8],[215,37.3],[225,37.0],[240,36.6],[255,36.5],[270,36.6],[280,37.5],[285,36.2],[300,36.0],[309,36.1],[310.5,43.1],[315,43.0],[317,39.5],[322,39.5],[325,38.0],[332,36.7],[345,36.4],[355,37.3],[360,36.3],[380,36.2],[383,37.2],[388,36.2],[410,36.0],[418,36.8],[425,36.0],[440,36.0],[447,36.6],[452,36.0],[465,36.0],[470,36.8],[476,36.3],[477.5,39.5],[482,39.5],[484,37.8],[490,37.2],[497.8,36.3],[504.1,36.7],[510.4,35.7],[518.8,35.9],[524,36.6],[529.3,35.3],[539.8,34.9],[552.3,34.2],[555.5,35.6],[558.6,35.6],[560.7,33.7],[571.2,34.6],[577.5,33.7],[581.7,32.8],[588,32.8],[594.3,33.1],[598.5,34.2],[602.7,33.4],[611,33.8],[619.5,33.1],[630,33.9],[634.2,32.3],[644.6,32.8],[657.2,33.3],[663.5,32.5],[672,34.4],[678.2,33.5],[684.5,35.3],[688.7,33.7],[699.2,36.7],[705.5,33.9],[711.8,35.0],[720.2,35.9],[724.4,35.0],[728.6,34.2],[739,35.9],[747.4,34.5],[752.7,33.9],[760,37.8],[765.3,34.5],[772.6,35.9],[781,35.9],[784.1,37.9],[791.5,35.3],[799.9,38.3],[806.2,37.8],[812.5,36.1],[820,36.5],[826,37.8],[832,36.3],[840,36.5],[848,38.0],[855,36.4],[865,37.5],[870,38.8],[878,38.0],[885,36.8],[895,36.3],[905,37.0],[915,36.2],[925,36.6],[935,36.2],[945,38.8],[950,38.5],[955,36.4],[965,36.2],[975,36.8],[985,36.1],[995,36.4],[998,38.5],[1003,39.5],[1008,37.0],[1015,39.5],[1020,37.5],[1025,36.5],[1035,37.0],[1045,36.3],[1055,36.8],[1065,36.2],[1075,36.5],[1085,36.2],[1095,36.8],[1100,38.5],[1106,37.0],[1110,40.0],[1115,39.8],[1118,36.8],[1125,36.5],[1135,36.2],[1145,36.8],[1155,36.0],[1158.6,35.6],[1170,35.8],[1172.5,37.8],[1176.7,36.0],[1197.8,36.3],[1200.9,41.7],[1204,42.7],[1206,38.6],[1207.5,40.9],[1210.6,40.0],[1215.9,36.2],[1221,36.2],[1226.4,39.2],[1230.6,36.4],[1232.7,40.3],[1236.5,40.5],[1238,37.8],[1243.3,38.1],[1247,37.0],[1251.7,40.0],[1256.3,36.6],[1268.5,37.6],[1273.8,36.3],[1283,38.6],[1288.4,36.7],[1293.6,37.8],[1306,36.4],[1318.8,36.4],[1331.4,37.3],[1337.7,36.3],[1344,36.6],[1360.8,36.2],[1378.6,37.5],[1383.9,36.0],[1402.8,36.1],[1408,38.1],[1411,38.0],[1416.4,36.2],[1437,36.0]];

// 15 s min/max envelope: band [minute, min dB, max dB] and short spikes [minute, from dB, to dB]
const envBand = [[0,59.8,62.5],[10,60.0,62.8],[20,59.9,62.3],[30,59.9,62.5],[40,59.8,62.0],[50,59.7,61.8],[60,59.6,61.5],[70,59.6,61.6],[80,59.5,61.4],[90,59.6,61.5],[100,59.5,61.4],[110,59.5,61.5],[120,59.4,61.2],[130,59.4,61.2],[140,59.5,61.3],[150,59.6,61.6],[160,59.6,61.4],[170,59.5,61.5],[180,59.7,62.0],[190,60.2,63.5],[200,60.0,63.0],[210,59.3,61.0],[230,59.2,60.8],[260,59.2,60.8],[290,59.2,60.9],[320,59.3,61.0],[350,59.4,61.0],[380,59.2,60.8],[410,59.2,60.8],[440,59.2,60.8],[470,59.3,61.0],[490,59.2,61.0],[500,59.0,61.2],[510,58.9,61.0],[520,58.6,61.0],[530,58.0,60.5],[540,57.5,59.8],[550,56.2,58.5],[560,55.0,57.0],[570,53.8,56.0],[580,53.0,55.5],[590,52.6,55.5],[600,52.6,55.8],[610,52.8,56.5],[620,52.5,55.8],[630,52.3,55.8],[640,52.3,55.5],[650,52.2,55.3],[660,52.0,55.0],[670,52.2,55.5],[680,52.4,56.0],[690,52.6,56.5],[700,52.6,56.2],[710,52.5,56.5],[720,53.0,57.0],[730,53.3,58.0],[740,53.5,57.5],[750,54.0,58.0],[760,54.5,58.5],[770,59.0,61.5],[780,59.3,61.3],[790,59.5,61.5],[800,59.6,62.5],[810,59.6,61.5],[840,59.8,61.3],[880,59.9,61.6],[920,59.8,61.2],[960,59.8,61.2],[1000,60.0,62.5],[1040,59.9,61.2],[1080,60.0,61.3],[1110,60.2,62.6],[1140,60.2,61.4],[1180,60.3,61.5],[1210,61.0,63.5],[1240,60.4,61.8],[1260,60.3,61.6],[1300,60.2,61.4],[1340,60.2,61.4],[1380,60.2,61.5],[1437,60.2,61.4]];

const envSpikes = [[2,62.3,64],[4,62.4,66.5],[6,62.5,70],[8,62.6,66],[10,62.7,68.5],[12,62.6,64.5],[14,62.5,67],[16,62.4,74],[18,62.3,70],[20,62.3,65],[24,62.3,63.5],[27,62.4,66.5],[30,62.5,68],[33,62.4,70],[35,62.3,73.5],[37,62.2,69.5],[40,62,66],[44,61.9,64],[47,61.8,67.5],[50,61.8,65.5],[53,61.7,67],[56,61.6,64],[60,61.5,63.5],[65,61.5,63],[70,61.6,64],[74,61.5,66.5],[80,61.4,65],[85,61.4,63.5],[88,61.5,66],[95,61.4,63],[100,61.4,65],[103,61.4,68],[110,61.5,64],[115,61.4,63],[122,61.2,64],[128,61.2,62.8],[135,61.2,63.5],[142,61.3,62.5],[150,61.6,64],[155,61.5,63],[162,61.4,64.5],[170,61.5,66],[176,61.7,63],[183,61.9,64],[186,62.5,76],[188,62.8,72],[190,63.2,74],[193,63.3,70],[196,63.2,68],[200,63,66],[204,62,70],[207,61.5,65],[212,60.9,63.5],[220,60.8,64],[228,60.8,63],[240,60.8,62.8],[255,60.8,63.5],[270,60.8,62.8],[285,60.9,64],[297,60.9,64.5],[305,61,63],[311.5,61,88],[313,61,72],[318,61,66],[323,61,67],[330,61,63],[345,61,66],[355,61,64],[370,60.9,65],[376,60.8,68],[385,60.8,63],[400,60.8,62.5],[420,60.8,63],[440,60.8,62.8],[450,60.9,64],[465,61,63],[479.5,61,80.5],[482,61,66],[490,61,64],[502,61.2,69.2],[503,61.2,68.6],[505,61.2,66],[510.4,61,63.3],[512,61,65],[518.4,61,73.3],[523,61,63.3],[535.6,60.3,63.3],[545,59.5,62],[550,58.6,61],[554.4,57.5,62.5],[558,57,60],[562,56.5,59.5],[566,56,58.9],[570,55.8,60.5],[574.4,55.6,62.5],[578,55.5,59],[582,55.5,61],[586,55.5,58.5],[589,55.5,60.5],[592.2,55.5,63.3],[595,55.5,59],[597,55.6,71.1],[599.5,55.6,62.8],[602,55.7,60],[605,55.8,64],[608,56,61],[611.5,56.2,72.5],[615,56,63],[617,55.9,59.5],[619.5,55.8,61.7],[622,55.8,62.5],[625,55.8,60],[627.9,55.8,65.3],[631,55.8,68.6],[633.1,55.7,68.3],[636,55.6,60],[640,55.5,63],[642,55.5,59],[644.6,55.4,61.7],[647,55.3,60],[649.9,55.3,63.1],[652,55.2,59.5],[655,55.1,62],[657,55.1,58.5],[659.3,55,60.6],[662.5,55.2,61.9],[665,55.3,63],[667.3,55.4,64.2],[669.5,55.4,60],[671.9,55.5,65.3],[674,55.6,61],[677,55.8,64],[680,56,66],[682,56.1,61],[684.1,56.2,70],[686,56.3,62],[688.7,56.4,70.5],[691,56.5,63],[693.5,56.4,71.2],[695,56.3,61],[697,56.3,64],[700.2,56.2,66.1],[703,56.3,68],[705,56.3,62],[708.6,56.4,71.6],[710,56.5,61],[712,56.6,66],[714,56.7,60.5],[716,56.8,64],[718,56.9,61],[721.2,57,66.7],[724,57.3,67],[726.9,57.6,69.7],[729,57.9,72],[731,58,63],[732.3,58,75.1],[735,57.8,70],[737,57.7,69.7],[739,57.6,75],[741,57.6,64],[742,57.6,67],[744,57.7,72],[745.5,57.8,62],[747,57.9,74.7],[750,58,68],[752,58.1,70],[755,58.3,65],[757,58.4,68],[758.5,58.5,62],[760,58.5,71.9],[763,59,63],[766,59.5,64],[769.5,61.2,66.1],[775.8,61.3,63.6],[797.8,61.8,81.6],[801,62.3,78.6],[806.2,61.5,67.2],[820,61.4,64],[835,61.3,63],[850,61.4,65],[877,61.6,68],[890,61.5,64],[905,61.3,66],[915,61.2,63],[935,61.2,64],[960,61.2,63],[1000,62,80],[1003,62,70],[1017,61.8,79.5],[1020,61.5,66],[1050,61.2,63.5],[1080,61.3,63],[1111,62.2,82],[1113,62.3,70],[1140,61.4,63],[1170,61.4,62.8],[1177.5,61.5,64.7],[1185,61.5,64.5],[1192.2,61.5,64.2],[1201.6,61.8,65.5],[1202.7,62,79.4],[1209,63.5,83.5],[1212.7,63,66],[1233,61.9,75.3],[1250.9,61.8,66.4],[1254,61.8,65],[1265.6,61.6,64.7],[1274,61.5,63.6],[1299.2,61.4,64.4],[1326.4,61.4,62.5],[1360,61.4,62],[1380,61.5,62.5]];

// ---------------- series styles / legend entries ----------------
const pair = (ts, vs) => ts.map((t, i) => [t, vs[i]]);
const topDots = [
  {label: "peak dB(Z)", data: peakZ.concat(pair(bandT, peakZ5)), color: "#1e90ff"},
  {label: "peak dB(C)", data: peakC.concat(pair(bandT, peakC5)), color: "#ff00ff"},
  {label: "peak dB(A)", data: peakA.concat(pair(bandT, peakA5)), color: "#2e8b57"}
];
const topLines = [
  {label: "avg dB(Z)", data: avgZ, color: "#4682b4"},
  {label: "avg dB(C)", data: avgC, color: "#da70d6"},
  {label: "avg dB(A)", data: avgA, color: "#9acd32"}
];
const botLines = [
  {label: "dB(Z)", data: lineZ, color: "#dc143c"},
  {label: "dB(C)", data: lineC, color: "#ff8c00"},
  {label: "dB(A)", data: lineA, color: "#ffd700"}
];
const envColor = "#fa8072";

// ---------------- drawing ----------------
document.getElementById("title").innerHTML = figTitle.join("<br>");
const byT = arr => d3.sort(arr, d => d[0]);
const X = d => d[0], Y = d => d[1];

function panel({height, marginTop, marginBottom, title, tickLabels, marks}) {
  return Plot.plot({
    width: 2400, height, marginLeft: 59, marginRight: 57, marginTop, marginBottom,
    style: {background: "transparent", fontFamily: "'DejaVu Sans', sans-serif", fontSize: "8px", color: "#111", overflow: "visible"},
    x: {type: "linear", domain: [0, 1437.5], axis: null},
    y: {type: "linear", domain: [24, 108], axis: null},
    marks: [
      Plot.frame({fill: "#fff8dc", stroke: "none"}),
      Plot.gridX({ticks: xMinor, stroke: "#cdcdcd", strokeOpacity: 1, strokeWidth: 1, strokeDasharray: "1.5,2"}),
      Plot.gridY({ticks: yMinor, stroke: "#c2c2c2", strokeOpacity: 1, strokeWidth: 1, strokeDasharray: "4,2"}),
      Plot.gridX({ticks: xMajor, stroke: "#aaaaaa", strokeOpacity: 1, strokeWidth: 1.5}),
      Plot.gridY({ticks: yMajor, stroke: "#aaaaaa", strokeOpacity: 1, strokeWidth: 1.5}),
      ...marks,
      Plot.frame({stroke: "#000", strokeWidth: 1.3}),
      Plot.axisX({ticks: xMajor, tickSize: 6, tickPadding: 4, tickFormat: t => tickLabels[xMajor.indexOf(t)], label: null, fontSize: 8, stroke: "#000"}),
      Plot.axisX({ticks: xMinor, tickSize: 3.5, fill: "none", label: null, stroke: "#000"}),
      Plot.axisY({ticks: yMajor, anchor: "left", tickSize: 6, tickPadding: 5, label: null, fontSize: 8, stroke: "#000"}),
      Plot.axisY({ticks: yMinor, anchor: "left", tickSize: 3.5, fill: "none", label: null, stroke: "#000"}),
      Plot.axisY({ticks: yMajor, anchor: "right", tickSize: 6, tickPadding: 5, label: null, fontSize: 8, stroke: "#000"}),
      Plot.axisY({ticks: yMinor, anchor: "right", tickSize: 3.5, fill: "none", label: null, stroke: "#000"}),
      Plot.text([yLabel], {frameAnchor: "left", dx: -41, rotate: -90, fontSize: 11, fill: "#000"}),
      Plot.text([yLabel], {frameAnchor: "right", dx: 39, rotate: -90, fontSize: 11, fill: "#000"}),
      Plot.text([xLabel], {frameAnchor: "bottom", dy: 32, fontSize: 11, fill: "#000"}),
      Plot.text([title], {frameAnchor: "top-left", dy: -14, textAnchor: "start", fontWeight: "bold", fontSize: 11.5, fill: "#000"})
    ]
  });
}

const topMarks = [
  ...topDots.map(s => Plot.dot(s.data, {x: X, y: Y, r: 1.6, fill: s.color, stroke: "none"})),
  ...topLines.map(s => Plot.line(byT(s.data), {x: X, y: Y, stroke: s.color, strokeWidth: 1.5}))
];
const botMarks = [
  Plot.areaY(byT(envBand), {x: d => d[0], y1: d => d[1], y2: d => d[2], fill: envColor, fillOpacity: 0.3}),
  Plot.ruleX(envSpikes, {x: d => d[0], y1: d => d[1], y2: d => d[2], stroke: envColor, strokeOpacity: 0.3, strokeWidth: 1.5}),
  ...botLines.map(s => Plot.line(byT(s.data), {x: X, y: Y, stroke: s.color, strokeWidth: 2}))
];

document.getElementById("top").appendChild(panel({height: 630, marginTop: 84, marginBottom: 42, title: topTitle, tickLabels: xLabelsTop, marks: topMarks}));
document.getElementById("bottom").appendChild(panel({height: 570, marginTop: 14, marginBottom: 51, title: botTitle, tickLabels: xLabelsBot, marks: botMarks}));

// ---------------- legends ----------------
function addItem(box, x, y, txt) {
  const d = document.createElement("div");
  d.className = "item"; d.style.left = x + "px"; d.style.top = (y - 5.5) + "px"; d.textContent = txt;
  box.appendChild(d);
}
function addSwatch(box, css) {
  const s = document.createElement("div"); s.className = "sw"; Object.assign(s.style, css); box.appendChild(s);
}
const legTop = document.getElementById("legTop");
const rowsTop = [7, 18.7, 30.4];
topDots.forEach((s, i) => {
  addSwatch(legTop, {left: "11px", top: (rowsTop[i] - 2.2) + "px", width: "4.4px", height: "4.4px", borderRadius: "50%", background: s.color});
  addItem(legTop, 30, rowsTop[i], s.label);
});
topLines.forEach((s, i) => {
  addSwatch(legTop, {left: "101px", top: (rowsTop[i] - 1.7) + "px", width: "22px", height: "3.4px", background: s.color});
  addItem(legTop, 129, rowsTop[i], s.label);
});
const legBot = document.getElementById("legBot");
const rowsBot = [8, 19.7, 31.4];
botLines.forEach((s, i) => {
  addSwatch(legBot, {left: "3px", top: (rowsBot[i] - 1.8) + "px", width: "21px", height: "3.6px", background: s.color});
  addItem(legBot, 30, rowsBot[i], s.label);
});
</script>
</body></html>
